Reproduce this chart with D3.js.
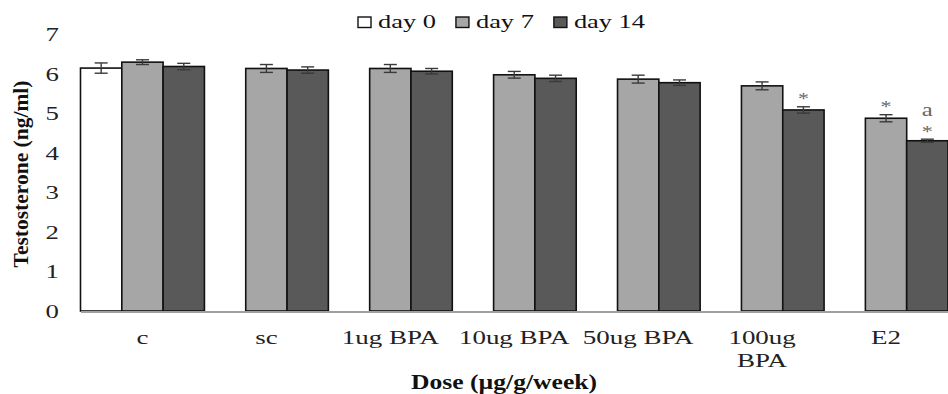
<!DOCTYPE html>
<html>
<head>
<meta charset="utf-8">
<script src="https://cdn.jsdelivr.net/npm/d3@7"></script>
<style>
  html, body { margin: 0; padding: 0; background: #fff; }
  svg { display: block; }
  text { font-family: "Liberation Serif", "Times New Roman", serif; }
</style>
</head>
<body>
<svg id="chart" width="948" height="394"></svg>
<script>
// ---- data ----
const categories = ["c", "sc", "1ug BPA", "10ug BPA", "50ug BPA", "100ug BPA", "E2"];
const tickLabels = [["c"], ["sc"], ["1ug BPA"], ["10ug BPA"], ["50ug BPA"], ["100ug", "BPA"], ["E2"]];
const seriesNames = ["day 0", "day 7", "day 14"];
const day0Values  = [6.15, null, null, null, null, null, null];
const day0Errors  = [0.13, null, null, null, null, null, null];
const day7Values  = [6.30, 6.14, 6.14, 5.98, 5.87, 5.70, 4.88];
const day7Errors  = [0.06, 0.10, 0.10, 0.085, 0.10, 0.10, 0.09];
const day14Values = [6.19, 6.10, 6.07, 5.89, 5.78, 5.09, 4.31];
const day14Errors = [0.08, 0.08, 0.07, 0.08, 0.07, 0.08, 0.04];
const yTicks = [0, 1, 2, 3, 4, 5, 6, 7];
const sigCategories = ["100ug BPA", "E2", "E2"];
const sigSeries     = ["day 14", "day 7", "day 14"];
const sigLabels     = [["*"], ["*"], ["*", "a"]];
const yTitle = "Testosterone (ng/ml)";
const xTitle = "Dose (\u00b5g/g/week)";

const seriesValues = [day0Values, day7Values, day14Values];
const seriesErrors = [day0Errors, day7Errors, day14Errors];
const fills = ["#ffffff", "#a6a6a6", "#595959"];

// ---- layout ----
const svg = d3.select("#chart");
const plot = { left: 80.5, right: 948, top: 34.5, bottom: 311 };

const x = d3.scaleBand().domain(categories).range([plot.left, plot.right]).padding(0);
const xs = d3.scaleBand().domain(seriesNames).range([0, x.bandwidth()]).padding(0);
const y = d3.scaleLinear().domain([0, 7]).range([plot.bottom, plot.top]);

const rows = [];
seriesNames.forEach((s, si) => {
  categories.forEach((c, ci) => {
    const v = seriesValues[si][ci];
    if (v != null) rows.push({ cat: c, series: s, si, value: v, err: seriesErrors[si][ci] });
  });
});

// bars
svg.append("g").selectAll("rect").data(rows).join("rect")
  .attr("x", d => x(d.cat) + xs(d.series))
  .attr("y", d => y(d.value))
  .attr("width", xs.bandwidth())
  .attr("height", d => y(0) - y(d.value))
  .attr("fill", d => fills[d.si])
  .attr("stroke", "#111")
  .attr("stroke-width", 1.6);

// error bars
const eg = svg.append("g").attr("stroke", "#3a3a3a").attr("stroke-width", 1.4);
rows.forEach(d => {
  const cx = x(d.cat) + xs(d.series) + xs.bandwidth() / 2;
  const y1 = y(d.value + d.err), y2 = y(d.value - d.err);
  eg.append("line").attr("x1", cx).attr("x2", cx).attr("y1", y1).attr("y2", y2);
  eg.append("line").attr("x1", cx - 6.5).attr("x2", cx + 6.5).attr("y1", y1).attr("y2", y1);
  eg.append("line").attr("x1", cx - 6.5).attr("x2", cx + 6.5).attr("y1", y2).attr("y2", y2);
});

// x axis line
const xAxis = d3.axisBottom(x).tickSize(0).tickFormat("");
const xg = svg.append("g").attr("transform", `translate(0,${plot.bottom + 0.5})`).call(xAxis);
xg.select(".domain").attr("stroke", "#a0a0a0").attr("stroke-width", 2);

// x tick labels
const txSx = 1.42;
categories.forEach((c, i) => {
  const cx = x(c) + x.bandwidth() / 2;
  tickLabels[i].forEach((line, li) => {
    svg.append("text")
      .attr("transform", `translate(${cx},${344 + li * 23}) scale(${txSx},1)`)
      .attr("text-anchor", "middle")
      .attr("font-size", 19)
      .attr("fill", "#222")
      .text(line);
  });
});

// y tick labels
const yAxis = d3.axisLeft(y).tickValues(yTicks).tickSize(0).tickFormat(d3.format("d"));
const yg = svg.append("g").attr("transform", `translate(${plot.left},0)`).call(yAxis);
yg.select(".domain").remove();
yg.selectAll(".tick text").remove();
yTicks.forEach(t => {
  svg.append("text")
    .attr("transform", `translate(59,${y(t) + 6.5}) scale(1.45,1)`)
    .attr("text-anchor", "end")
    .attr("font-size", 18.5)
    .attr("fill", "#222")
    .text(t);
});

// significance marks
sigCategories.forEach((c, i) => {
  const s = sigSeries[i];
  const si = seriesNames.indexOf(s);
  const ci = categories.indexOf(c);
  const top = y(seriesValues[si][ci] + seriesErrors[si][ci]);
  const cx = x(c) + xs(s) + xs.bandwidth() / 2;
  sigLabels[i].forEach((lab, li) => {
    if (lab === "*") {
      svg.append("text")
        .attr("transform", `translate(${cx},${top - 2.5 - li * 17}) scale(1.3,1)`)
        .attr("text-anchor", "middle").attr("font-size", 17).attr("fill", "#666").text(lab);
    } else {
      svg.append("text")
        .attr("transform", `translate(${cx},${top - 23.5}) scale(1.3,1)`)
        .attr("text-anchor", "middle").attr("font-size", 19).attr("fill", "#666").text(lab);
    }
  });
});

// axis titles
svg.append("text")
  .attr("transform", "translate(28,174) rotate(-90)")
  .attr("text-anchor", "middle")
  .attr("font-size", 21.5).attr("font-weight", "bold").attr("fill", "#111")
  .text(yTitle);

svg.append("text")
  .attr("transform", "translate(504,389) scale(1.28,1)")
  .attr("text-anchor", "middle")
  .attr("font-size", 20).attr("font-weight", "bold").attr("fill", "#111")
  .text(xTitle);

// legend
const lg = svg.append("g");
let lx = 358;
const lgSx = 1.39;
seriesNames.forEach((s, i) => {
  lg.append("rect").attr("x", lx).attr("y", 17).attr("width", 13).attr("height", 10.5)
    .attr("fill", fills[i]).attr("stroke", "#111").attr("stroke-width", 1.4);
  const t = lg.append("text")
    .attr("transform", `translate(${lx + 20},28) scale(${lgSx},1)`)
    .attr("font-size", 19).attr("fill", "#111").text(s);
  const w = t.node().getComputedTextLength() * lgSx;
  lx += 20 + w + 20;
});
</script>
</body>
</html>
